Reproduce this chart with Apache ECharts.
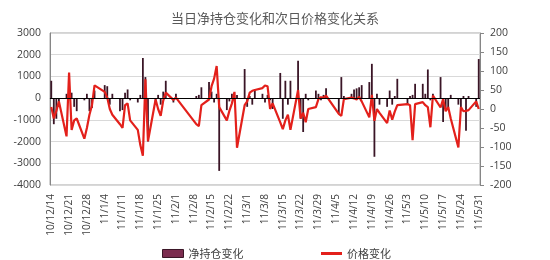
<!DOCTYPE html>
<html><head><meta charset="utf-8">
<script src="https://cdn.jsdelivr.net/npm/echarts@6/dist/echarts.min.js"></script>
<style>html,body{margin:0;padding:0;background:#fff}#c{width:550px;height:260px}</style>
</head><body><div id="c"></div>
<script>
// Trading days (yy/m/d)
const tradeDates = [
 '10/12/14','10/12/15','10/12/16','10/12/17','10/12/20','10/12/21','10/12/22','10/12/23','10/12/24',
 '10/12/27','10/12/28','10/12/29','10/12/30','10/12/31',
 '11/1/4','11/1/5','11/1/6','11/1/7','11/1/10','11/1/11','11/1/12','11/1/13','11/1/14',
 '11/1/17','11/1/18','11/1/19','11/1/20','11/1/21','11/1/24','11/1/25','11/1/26','11/1/27','11/1/28','11/1/31',
 '11/2/1','11/2/9','11/2/10','11/2/11','11/2/14','11/2/15','11/2/16','11/2/17','11/2/18',
 '11/2/21','11/2/22','11/2/23','11/2/24','11/2/25','11/2/28',
 '11/3/1','11/3/2','11/3/3','11/3/4','11/3/7','11/3/8','11/3/9','11/3/10','11/3/11',
 '11/3/14','11/3/15','11/3/16','11/3/17','11/3/18','11/3/21','11/3/22','11/3/23','11/3/24','11/3/25',
 '11/3/28','11/3/29','11/3/30','11/3/31','11/4/1','11/4/6','11/4/7','11/4/8',
 '11/4/11','11/4/12','11/4/13','11/4/14','11/4/15','11/4/18','11/4/19','11/4/20','11/4/21','11/4/22',
 '11/4/25','11/4/26','11/4/27','11/4/28','11/4/29','11/5/3','11/5/4','11/5/5','11/5/6',
 '11/5/9','11/5/10','11/5/11','11/5/12','11/5/13','11/5/16','11/5/17','11/5/18','11/5/19','11/5/20',
 '11/5/23','11/5/24','11/5/25','11/5/26','11/5/27','11/5/30','11/5/31'
];
// 净持仓变化 (left axis)
const netPosition = [
 800,-1200,-950,-400,200,300,250,-400,-600,
 -100,200,-600,-450,350,
 600,550,-300,200,-600,-550,250,400,-100,
 -200,150,1850,970,-2000,-200,150,-300,300,800,-200,
 200,100,150,500,740,300,-200,200,-3350,
 -550,-150,200,-100,150,1340,
 -400,100,-300,420,200,-200,150,-100,-500,
 1160,-950,800,-300,800,1720,-950,-1560,200,-100,
 350,200,-100,150,460,-700,970,100,
 200,400,450,500,600,740,1580,-2700,200,-300,
 -400,350,-300,100,890,-300,100,150,660,
 660,200,1320,-100,200,970,-1100,-500,-450,150,
 -300,-500,100,-1500,100,-400,1800
];
// 价格变化 (right axis)
const priceChange = [
 5,-25,-5,20,-72,96,-55,-30,-25,
 -78,-50,-15,10,62,
 45,30,0,-15,-40,-50,10,15,-30,
 -55,-95,-123,78,-85,25,0,-18,22,43,24,
 30,-40,-45,10,25,60,80,113,5,
 -30,-5,15,45,-102,10,
 20,43,48,50,55,62,60,0,15,
 -35,-53,-30,-15,-55,50,-25,-10,-35,0,
 5,26,31,30,35,-13,-18,26,
 30,28,25,32,20,-22,37,-31,0,-10,
 -37,-4,-28,-7,10,13,10,-82,13,
 18,10,5,-48,35,4,26,-6,5,-25,
 -101,5,-6,-5,-3,20,0
];
const leftAxis = {min:-4000, max:3000, step:1000};
const rightAxis = {min:-200, max:200, step:50};
const seriesNames = ['净持仓变化','价格变化'];
const titleText = '当日净持仓变化和次日价格变化关系';

// build calendar-day category axis (Excel date axis)
function parse(s){const p=s.split('/').map(Number);return Date.UTC(2000+p[0],p[1]-1,p[2]);}
const DAY=86400000;
const t0=parse(tradeDates[0]), t1=parse(tradeDates[tradeDates.length-1]);
const cal=[];
for(let t=t0;t<=t1;t+=DAY){const d=new Date(t);cal.push((d.getUTCFullYear()%100)+'/'+(d.getUTCMonth()+1)+'/'+d.getUTCDate());}
const barData=cal.map(()=>null), lineData=cal.map(()=>null);
tradeDates.forEach((s,i)=>{const k=Math.round((parse(s)-t0)/DAY);barData[k]=netPosition[i];lineData[k]=priceChange[i];});

const font='"Open Sans","Noto Sans CJK SC",sans-serif';
const cjk='"Noto Sans CJK SC",sans-serif';
const chart=echarts.init(document.getElementById('c'),null,{renderer:'canvas'});
chart.setOption({
 animation:false,
 title:{text:titleText,left:166,top:7,textStyle:{fontSize:13,fontWeight:'normal',color:'#595959',fontFamily:cjk}},
 grid:{left:50,right:70,top:33,bottom:75,show:true,borderColor:'#a6a6a6',borderWidth:1},
 legend:[
  {left:157,top:243,itemWidth:21,itemHeight:8,textStyle:{fontSize:11,color:'#404040',fontFamily:cjk},
   data:[{name:seriesNames[0],icon:'rect',itemStyle:{color:'#7b2c4f',borderColor:'#3a1526',borderWidth:1}}]},
  {left:316,top:243,itemWidth:21,itemHeight:3,textStyle:{fontSize:11,color:'#404040',fontFamily:cjk},
   data:[{name:seriesNames[1],icon:'rect'}]}
 ],
 xAxis:{type:'category',data:cal,boundaryGap:true,
   axisLine:{show:true,lineStyle:{color:'#a6a6a6'}},axisTick:{show:false},
   axisLabel:{interval:6,rotate:90,fontSize:10,color:'#404040',fontFamily:font,margin:9}},
 yAxis:[
  {type:'value',min:leftAxis.min,max:leftAxis.max,interval:leftAxis.step,
   axisLine:{show:true,lineStyle:{color:'#868686'}},axisTick:{show:false},
   axisLabel:{fontSize:10.5,color:'#404040',fontFamily:font,margin:9,formatter:v=>String(v)},
   splitLine:{lineStyle:{color:'#d9d9d9'}}},
  {type:'value',min:rightAxis.min,max:rightAxis.max,interval:rightAxis.step,position:'right',
   axisLine:{show:true,lineStyle:{color:'#868686'}},axisTick:{show:true,length:4,lineStyle:{color:'#868686'}},
   axisLabel:{fontSize:10.5,color:'#404040',fontFamily:font,margin:10,formatter:v=>String(v)},
   splitLine:{show:false}}
 ],
 series:[
  {name:seriesNames[0],type:'bar',yAxisIndex:0,data:barData,barWidth:1.8,
   itemStyle:{color:'#3a1526'},
   markLine:{silent:true,symbol:'none',label:{show:false},lineStyle:{color:'#000',width:1,type:'solid'},data:[{yAxis:0}]}},
  {name:seriesNames[1],type:'line',yAxisIndex:1,data:lineData,connectNulls:true,showSymbol:false,symbol:'none',
   lineStyle:{color:'#e3201b',width:2.2},itemStyle:{color:'#e3201b'}}
 ]
});
</script></body></html>
